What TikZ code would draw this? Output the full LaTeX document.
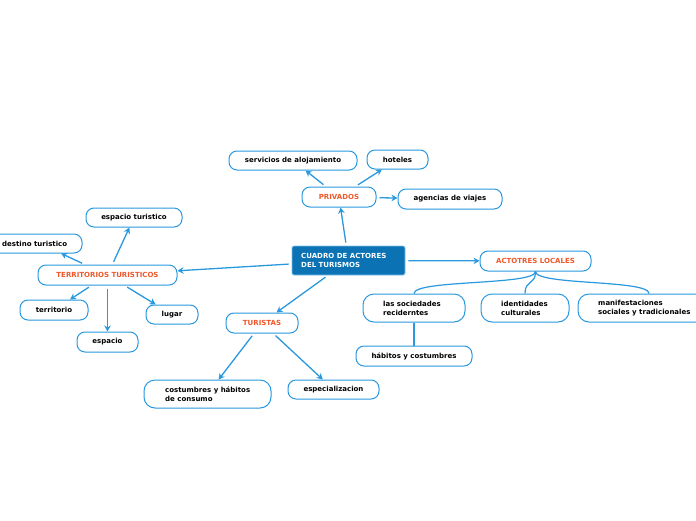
\documentclass[tikz,border=0pt]{standalone}
\usepackage{fontspec}
\setmainfont{DejaVu Sans}
\usetikzlibrary{arrows.meta}
\definecolor{lb}{RGB}{41,152,222}
\definecolor{cf}{RGB}{11,114,180}
\definecolor{orng}{RGB}{238,88,42}
\begin{document}
\begin{tikzpicture}[x=1pt,y=-1pt,
  fnt/.style={font=\fontsize{7}{9}\selectfont\bfseries},
  box/.style={draw=lb, line width=1pt, rounded corners=8pt, fill=white, fnt, inner sep=0pt, align=center, text=black},
  ttl/.style={box, text=orng},
  txt/.style={fnt, align=left, inner sep=0pt, anchor=west},
  arr/.style={draw=lb, line width=1.3pt, shorten <=3pt, -{Stealth[length=6pt,width=6.5pt]}},
  ln/.style={draw=lb, line width=1.2pt}]
\useasboundingbox (0,0) rectangle (696,520);
% central
\node[draw=lb!60, line width=0.8pt, fill=cf, rounded corners=2pt, minimum width=113pt, minimum height=29pt, inner sep=0pt] (center) at (348.5,260.5) {};
\node[txt, text=white] (centert) at (301,260.5) {CUADRO DE ACTORES\\DEL TURISMOS};
% privados branch
\node[ttl, minimum width=74pt, minimum height=20pt] (priv) at (339,197) {PRIVADOS};
\node[box, minimum width=128pt, minimum height=19pt] (serv) at (293,160.5) {servicios de alojamiento};
\node[box, minimum width=61pt, minimum height=19pt] (hot) at (397.5,159.5) {hoteles};
\node[box, minimum width=104pt, minimum height=20pt] (agen) at (450,199) {agencias de viajes};
% actores locales
\node[ttl, minimum width=111pt, minimum height=20pt] (loc) at (535.5,261) {ACTOTRES LOCALES};
\node[box, minimum width=102pt, minimum height=28pt, rounded corners=11pt] (soc) at (414,308) {};
\node[txt] (soct) at (383,308) {las sociedades\\reciderntes};
\node[box, minimum width=88pt, minimum height=28pt, rounded corners=11pt] (ident) at (525,308) {};
\node[txt] (identt) at (501,308) {identidades\\culturales};
\node[box, minimum width=142pt, minimum height=28pt, rounded corners=11pt] (manif) at (649,308) {};
\node[txt] (maniftt) at (598,308) {manifestaciones\\sociales y tradicionales};
\node[box, minimum width=116pt, minimum height=20pt] (hab) at (414,356) {hábitos y costumbres};
% turistas
\node[ttl, minimum width=72pt, minimum height=20pt] (tur) at (262,323) {TURISTAS};
\node[box, minimum width=127pt, minimum height=28pt, rounded corners=11pt] (cost) at (207.5,394) {};
\node[txt] (costt) at (165,394) {costumbres y hábitos\\de consumo};
\node[box, minimum width=91pt, minimum height=19pt] (esp) at (333.5,389.5) {especializacion};
% territorios
\node[ttl, minimum width=139pt, minimum height=20pt] (terr) at (107.5,275) {TERRITORIOS TURISTICOS};
\node[box, minimum width=96pt, minimum height=19pt] (espt) at (134,217.5) {espacio turistico};
\node[box, minimum width=122pt, minimum height=19pt] (dest) at (21,243.5) {};
\node[txt] (destt) at (2,243.5) {destino turistico};
\node[box, minimum width=68pt, minimum height=20pt] (terro) at (54,310) {territorio};
\node[box, minimum width=52pt, minimum height=19pt] (lug) at (172,314.5) {lugar};
\node[box, minimum width=61pt, minimum height=20pt] (espa) at (107.5,342) {espacio};
% connectors
\draw[arr] (center) -- (priv);
\draw[arr] (priv) -- (serv);
\draw[arr] (priv) -- (hot);
\draw[arr] (priv) -- (agen);
\draw[arr] (center) -- (loc);
\draw[arr] (center) -- (tur);
\draw[arr] (tur) -- (cost);
\draw[arr] (tur) -- (esp);
\draw[arr] (center) -- (terr);
\draw[arr] (terr) -- (espt);
\draw[arr] (terr) -- (dest.-14);
\draw[arr] (terr) -- (terro);
\draw[arr] (terr) -- (espa);
\draw[arr] (terr) -- (lug);
\draw[ln] (loc.south) .. controls ([yshift=-14pt]loc.south) and ([yshift=14pt]soc.north) .. (soc.north);
\draw[ln] (loc.south) .. controls ([yshift=-14pt]loc.south) and ([yshift=14pt]ident.north) .. (ident.north);
\draw[ln] (loc.south) .. controls ([yshift=-14pt]loc.south) and ([yshift=14pt]manif.north) .. (manif.north);
\draw[ln] (soc.south) -- (hab.north);
\end{tikzpicture}
\end{document}
